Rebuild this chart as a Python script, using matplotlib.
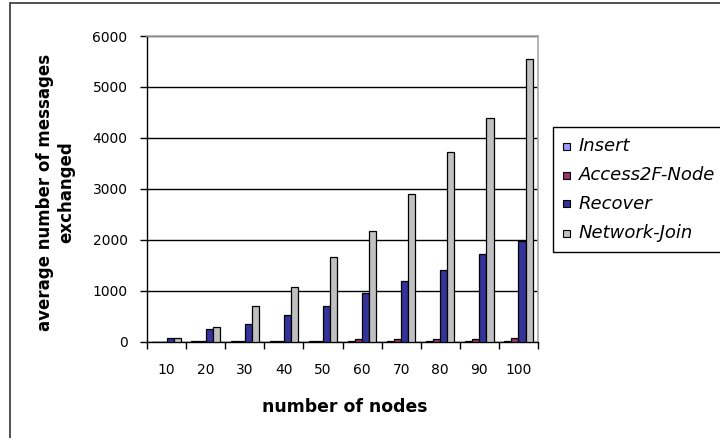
import matplotlib
matplotlib.use("Agg")
import matplotlib.pyplot as plt
import numpy as np
from matplotlib.patches import Rectangle

plt.rcParams['font.family'] = ['DejaVu Sans']

nodes = [10, 20, 30, 40, 50, 60, 70, 80, 90, 100]
insert = [0, 5, 5, 5, 5, 5, 5, 5, 20, 20]
access2f = [0, 15, 15, 15, 15, 60, 60, 60, 60, 65]
recover = [65, 240, 345, 525, 700, 950, 1200, 1410, 1715, 1980]
network_join = [65, 280, 700, 1080, 1670, 2170, 2900, 3730, 4400, 5550]

series = [
    ("Insert", insert, "#9999FF"),
    ("Access2F-Node", access2f, "#993366"),
    ("Recover", recover, "#333399"),
    ("Network-Join", network_join, "#C0C0C0"),
]

fig = plt.figure(figsize=(7.2, 4.38), dpi=100)

# outer chart frame
fig.patches.append(Rectangle((10 / 720, -0.05), 1.2, (438 - 3) / 438 + 0.05,
                             transform=fig.transFigure, fill=False,
                             edgecolor="#333333", linewidth=1.2))

ax = fig.add_axes([147 / 720, 96.3 / 438, 391 / 720, 305.7 / 438])

x = np.arange(len(nodes))
w = 1 / 5.5
for i, (name, vals, col) in enumerate(series):
    ax.bar(x + (i - 1.5) * w, vals, width=w, color=col, edgecolor="black",
           linewidth=0.9, zorder=3, label=name)

ax.set_xlim(-0.5, len(nodes) - 0.5)
ax.set_ylim(0, 6000)
ax.set_yticks(range(0, 6001, 1000))
ax.yaxis.grid(True, color="black", linewidth=1.0, zorder=1)
ax.set_axisbelow(True)

ax.set_xticks(x)
ax.set_xticklabels([str(n) for n in nodes], fontsize=10)
ax.tick_params(axis="x", length=0, pad=15)
ax.set_xticks(np.arange(len(nodes) + 1) - 0.5, minor=True)
ax.tick_params(axis="x", which="minor", length=5, width=1.0, direction="out")
ax.tick_params(axis="y", length=5, width=1.0, direction="out", labelsize=10, pad=9)

for s in ("top", "right"):
    ax.spines[s].set_color("#A8A8A8")
    ax.spines[s].set_linewidth(1.2)
for s in ("left", "bottom"):
    ax.spines[s].set_color("black")
    ax.spines[s].set_linewidth(1.0)

fig.text(56 / 720, 1 - 192 / 438, "average number of messages\nexchanged",
         rotation=90, ha="center", va="center", fontsize=12,
         fontweight="bold", linespacing=1.25)
fig.text(345 / 720, 1 - 407 / 438, "number of nodes", ha="center",
         va="center", fontsize=12.4, fontweight="bold")

# legend box drawn by hand
fig.patches.append(Rectangle((553 / 720, 1 - 252 / 438), 180 / 720, 125 / 438,
                             transform=fig.transFigure, facecolor="white",
                             edgecolor="black", linewidth=1.0))
rows = [146, 175, 204, 233]
for (name, vals, col), yy in zip(series, rows):
    fig.patches.append(Rectangle((563 / 720, 1 - (yy + 3.5) / 438), 7 / 720, 7 / 438,
                                 transform=fig.transFigure, facecolor=col,
                                 edgecolor="black", linewidth=0.8))
    fig.text(579 / 720, 1 - yy / 438, name, ha="left", va="center",
             fontsize=13, style="italic")

fig.savefig("out.png", dpi=100)
